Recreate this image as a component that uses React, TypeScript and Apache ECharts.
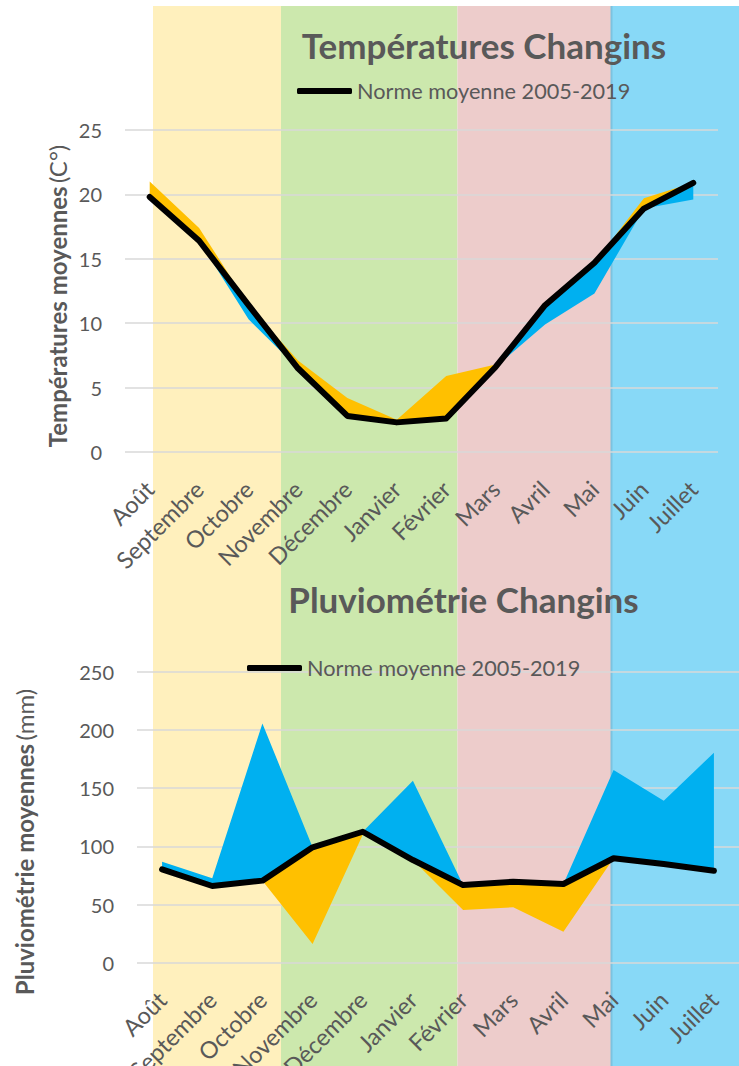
import React, { useEffect, useRef } from "react";
import * as echarts from "echarts";

const months = ["Août", "Septembre", "Octobre", "Novembre", "Décembre", "Janvier", "Février", "Mars", "Avril", "Mai", "Juin", "Juillet"];

// Températures (°C)
const tempNorm = [19.8, 16.4, 11.4, 6.5, 2.8, 2.3, 2.6, 6.6, 11.4, 14.7, 18.9, 20.9];
const tempActual = [21.0, 17.4, 10.3, 7.1, 4.2, 2.5, 5.9, 6.8, 9.9, 12.3, 19.7, 19.6];

// Pluviométrie (mm)
const rainNorm = [80.2, 65.9, 70.5, 99.1, 112.5, 88.2, 66.7, 69.6, 67.6, 89.7, 84.8, 79.0];
const rainActual = [86.8, 72.5, 205.6, 16.1, 110.0, 156.4, 45.3, 47.6, 26.6, 165.5, 139.2, 180.4];

const tempAxis = { min: 0, max: 25, interval: 5 };
const rainAxis = { min: 0, max: 250, interval: 50 };

const legendName = "Norme moyenne 2005-2019";
const tempTitle = "Températures Changins";
const rainTitle = "Pluviométrie Changins";

const FONT = "Lato";
const GREY = "#595959";
const ORANGE = "#FFC000";
const BLUE = "#00B0F0";

function lower(a: number[], b: number[]) {
  return a.map((v, i) => Math.min(v, b[i]));
}
function excess(a: number[], b: number[]) {
  return a.map((v, i) => Math.max(0, +(v - b[i]).toFixed(2)));
}

function areaSeries(name: string, data: number[], stack: string, idx: number, color: string | null) {
  const s: any = {
    name,
    type: "line",
    xAxisIndex: idx,
    yAxisIndex: idx,
    stack,
    data,
    symbol: "none",
    silent: true,
    lineStyle: { width: 0, opacity: 0 },
    z: 2,
  };
  if (color) s.areaStyle = { color, opacity: 1 };
  return s;
}

function normSeries(data: number[], idx: number) {
  return {
    name: legendName,
    type: "line",
    xAxisIndex: idx,
    yAxisIndex: idx,
    data,
    symbol: "none",
    color: "#000000",
    lineStyle: { color: "#000000", width: 6, cap: "round", join: "round" },
    z: 5,
  };
}

function xAxis(idx: number) {
  return {
    gridIndex: idx,
    type: "category",
    data: months,
    boundaryGap: true,
    axisLine: { show: false },
    axisTick: { show: false },
    axisLabel: { rotate: 45, interval: 0, color: GREY, fontSize: 23.5, fontFamily: FONT, margin: 33 },
  };
}

function yAxis(idx: number, ax: { min: number; max: number; interval: number }) {
  return {
    gridIndex: idx,
    type: "value",
    min: ax.min,
    max: ax.max,
    interval: ax.interval,
    axisLine: { show: false },
    axisTick: { show: false },
    axisLabel: { color: GREY, fontSize: 20, fontFamily: FONT, margin: 23 },
    splitLine: { lineStyle: { color: "#D9D9D9", width: 1.5 } },
  };
}

export default function App() {
  const ref = useRef<HTMLDivElement>(null);
  useEffect(() => {
    if (!ref.current) return;
    const chart = echarts.init(ref.current, null, { renderer: "svg" });
    const bands = [
      { x: 153, w: 128, c: "#FFF0BD" },
      { x: 281, w: 176.5, c: "#CCE8AD" },
      { x: 457.5, w: 153.5, c: "#EDCCCB" },
      { x: 611, w: 128, c: "#88D9F7" },
    ];
    const option: any = {
      animation: false,
      backgroundColor: "#ffffff",
      textStyle: { fontFamily: FONT },
      graphic: [
        ...bands.map((b) => ({
          type: "rect",
          z: -10,
          silent: true,
          shape: { x: b.x, y: 6, width: b.w, height: 1060 },
          style: { fill: b.c },
        })),
        {
          type: "line",
          z: -9,
          silent: true,
          shape: { x1: 611.5, y1: 6, x2: 611.5, y2: 1066 },
          style: { stroke: "#7CC3E0", lineWidth: 2 },
        },
        {
          type: "text",
          x: 484,
          y: 45,
          style: { text: tempTitle, fill: GREY, font: `bold 35px ${FONT}`, align: "center", verticalAlign: "middle" },
        },
        {
          type: "text",
          x: 463.5,
          y: 599,
          style: { text: rainTitle, fill: GREY, font: `bold 35px ${FONT}`, align: "center", verticalAlign: "middle" },
        },
        {
          type: "text",
          x: 57,
          y: 296,
          rotation: Math.PI / 2,
          style: {
            text: "{b|Températures moyennes} {n|(C°)}",
            align: "center",
            verticalAlign: "middle",
            rich: {
              b: { fill: GREY, fontWeight: "bold", fontSize: 24, fontFamily: FONT },
              n: { fill: GREY, fontSize: 24, fontFamily: FONT },
            },
          },
        },
        {
          type: "text",
          x: 24,
          y: 842,
          rotation: Math.PI / 2,
          style: {
            text: "{b|Pluviométrie moyennes} {n|(mm)}",
            align: "center",
            verticalAlign: "middle",
            rich: {
              b: { fill: GREY, fontWeight: "bold", fontSize: 24, fontFamily: FONT },
              n: { fill: GREY, fontSize: 24, fontFamily: FONT },
            },
          },
        },
      ],
      legend: [
        {
          data: [legendName],
          left: 297,
          top: 80,
          padding: 0,
          icon: "roundRect",
          itemWidth: 55,
          itemHeight: 6,
          selectedMode: false,
          textStyle: { color: GREY, fontSize: 21.7, fontFamily: FONT },
        },
        {
          data: [legendName],
          left: 247,
          top: 657,
          padding: 0,
          icon: "roundRect",
          itemWidth: 55,
          itemHeight: 6,
          selectedMode: false,
          textStyle: { color: GREY, fontSize: 21.7, fontFamily: FONT },
        },
      ],
      grid: [
        { left: 125, right: 21, top: 130, height: 322, outerBoundsMode: "none", containLabel: false },
        { left: 137, right: 0, top: 671.7, height: 291, outerBoundsMode: "none", containLabel: false },
      ],
      xAxis: [xAxis(0), xAxis(1)],
      yAxis: [yAxis(0, tempAxis), yAxis(1, rainAxis)],
      series: [
        areaSeries("tBase", lower(tempNorm, tempActual), "t", 0, null),
        areaSeries("tCold", excess(tempNorm, tempActual), "t", 0, BLUE),
        areaSeries("tWarm", excess(tempActual, tempNorm), "t", 0, ORANGE),
        normSeries(tempNorm, 0),
        areaSeries("rBase", lower(rainNorm, rainActual), "r", 1, null),
        areaSeries("rDry", excess(rainNorm, rainActual), "r", 1, ORANGE),
        areaSeries("rWet", excess(rainActual, rainNorm), "r", 1, BLUE),
        normSeries(rainNorm, 1),
      ],
    };
    chart.setOption(option);
    return () => chart.dispose();
  }, []);
  return <div ref={ref} style={{ position: "absolute", left: 0, top: 0, width: 739, height: 1066 }} />;
}
